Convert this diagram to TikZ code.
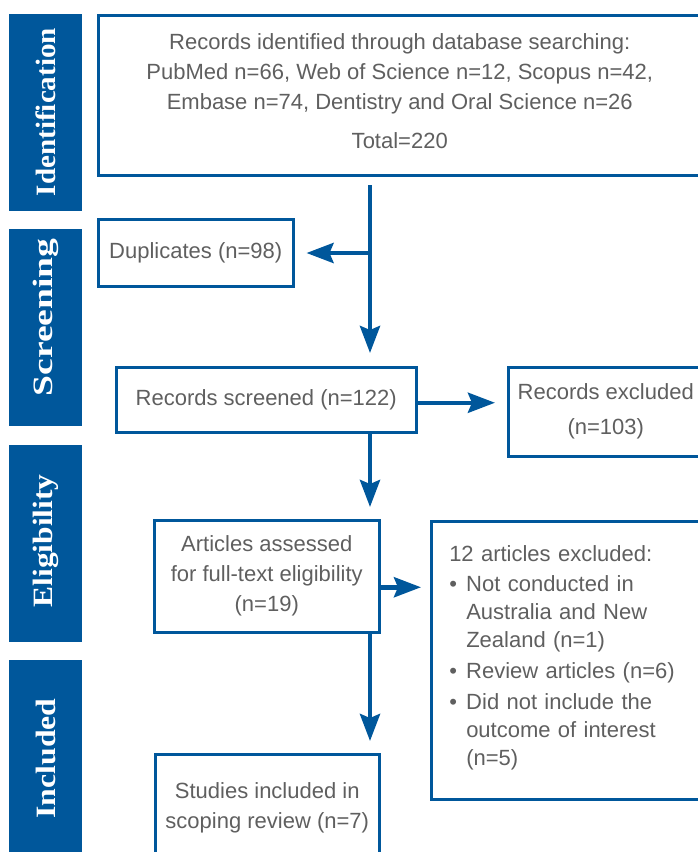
\documentclass[tikz,border=0pt]{standalone}
\usepackage{fontspec}
\setmainfont{Liberation Sans}
\newfontfamily\stagefont{Liberation Serif}
\usepackage{tikz}
\usetikzlibrary{positioning,arrows.meta}
\definecolor{prismablue}{RGB}{0,87,155}
\definecolor{prismatext}{RGB}{95,95,95}

\begin{document}
\begin{tikzpicture}[x=1pt,y=-1pt,
		stage/.style={rotate=90,fill=prismablue,text=white,minimum width=197pt,minimum height=73pt,inner sep=0pt,font=\stagefont\bfseries\fontsize{28}{28}\selectfont},
		box/.style={draw=prismablue,line width=2.5pt,anchor=north west,inner sep=0pt,text=prismatext,align=center,font=\fontsize{22}{30}\selectfont},
		flow/.style={draw=prismablue,line width=4.5pt,shorten >=12pt,-{Stealth[length=27pt,width=20pt,inset=4pt]}}]
		\useasboundingbox (0,0) rectangle (698,852);
		\clip (0,0) rectangle (698,852);
		
		\foreach \stagename/\stagelen/\stagelift [count=\i] in {Identification/168/0,Screening/158/10,Eligibility/133/2,Included/120/0}
			\node[stage] (stage\i) at (45.5,{112+215.5*(\i-1)}) {\hspace*{\stagelift pt}\hspace*{\stagelift pt}\resizebox{\stagelen pt}{\height}{\stagename}};
		
		\node[box,minimum width=603pt,minimum height=160pt] (records) at (97,14) {Records identified through database searching:\\PubMed n=66, Web of Science n=12, Scopus n=42,\\Embase n=74, Dentistry and Oral Science n=26\\[9pt]Total=220\\[-22pt]\mbox{}};
		
		\node[box,minimum width=195pt,minimum height=67pt] (dup) at (97,218) {Duplicates (n=98)};
		
		\node[box,minimum width=300pt,minimum height=65pt] (screened) at (115,366) {Records screened (n=122)};
		
		\node[box,minimum width=195pt,minimum height=89pt] (excluded) at (507,366) {Records excluded\\[5pt](n=103)};
		
		\node[box,minimum width=225pt,minimum height=112pt] (assessed) at (153,519) {Articles assessed\\for full-text eligibility\\(n=19)};
		
		\node[box,minimum width=272pt,minimum height=278pt,align=left,text width=236pt,inner xsep=18pt,font=\fontsize{22}{28}\selectfont] (reasons) at (430,520) {12 articles excluded:\\[2pt]
			\makebox[17pt][l]{\textbullet}Not conducted in\\
			\hspace*{17pt}Australia and New\\
			\hspace*{17pt}Zealand (n=1)\\[3pt]
			\makebox[17pt][l]{\textbullet}Review articles (n=6)\\[3pt]
			\makebox[17pt][l]{\textbullet}Did not include the\\
			\hspace*{17pt}outcome of interest\\
			\hspace*{17pt}(n=5)\\[-18pt]\mbox{}};
		
		\node[box,minimum width=224pt,minimum height=107pt] (included) at (154,753) {Studies included in\\scoping review (n=7)};
		
		\coordinate (spine) at (370,185);
		\coordinate (fork) at (370,253);
		
		\draw[flow,shorten >=13pt] (spine)--(spine |- screened.north);
		\draw[flow] (fork)--(fork -| dup.east);
		\draw[flow] ([yshift=-3pt]screened.east)--([yshift=-3pt]screened.east -| excluded.west);
		\draw[flow] (screened.south -| spine)--(assessed.north -| spine);
		\draw[flow,shorten >=9pt] ([yshift=-11pt]assessed.east)--([yshift=-11pt]assessed.east -| reasons.west);
		\draw[flow] (assessed.south -| spine)--(included.north -| spine);
	\end{tikzpicture}
\end{document}
